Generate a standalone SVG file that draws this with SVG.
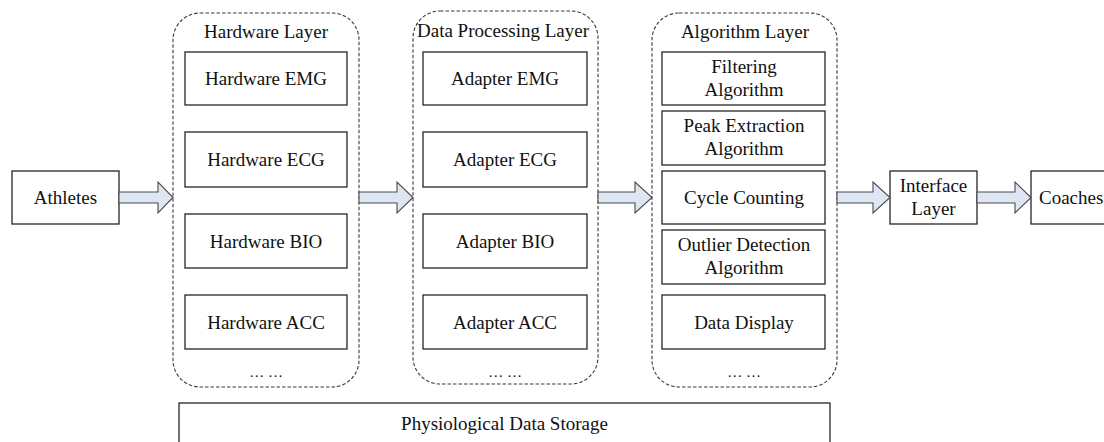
<svg xmlns="http://www.w3.org/2000/svg" width="1104" height="442" viewBox="0 0 1104 442">
  <style>
    .box { fill: #ffffff; stroke: #262626; stroke-width: 1.3; }
    .layer { fill: none; stroke: #3a3a3a; stroke-width: 1.1; stroke-dasharray: 3.5 2; }
    .flow { fill: #dfe6f3; stroke: #4a4a4a; stroke-width: 1.1; stroke-linejoin: miter; }
    text { font-family: "Liberation Serif", "Times New Roman", serif; font-size: 19px; fill: #111; text-anchor: middle; }
    .dots { font-size: 15px; }
  </style>

  <!-- Source -->
  <g id="athletes">
    <rect class="box" x="12" y="171" width="107" height="53"/>
    <text x="65.5" y="203.5">Athletes</text>
  </g>

  <!-- Hardware layer -->
  <g id="hardware-layer">
    <rect class="layer" x="173" y="13" width="186" height="374" rx="27" ry="27"/>
    <text x="266" y="38">Hardware Layer</text>
    <rect class="box" x="185" y="52" width="162" height="53"/>
    <text x="266" y="85">Hardware EMG</text>
    <rect class="box" x="185" y="132" width="162" height="55"/>
    <text x="266" y="166">Hardware ECG</text>
    <rect class="box" x="185" y="214" width="162" height="54"/>
    <text x="266" y="247.5">Hardware BIO</text>
    <rect class="box" x="185" y="295" width="162" height="54"/>
    <text x="266" y="328.5">Hardware ACC</text>
    <text class="dots" x="266" y="377">… …</text>
  </g>

  <!-- Data processing layer -->
  <g id="data-processing-layer">
    <rect class="layer" x="413" y="11" width="185" height="373" rx="27" ry="27"/>
    <text x="503" y="37">Data Processing Layer</text>
    <rect class="box" x="423" y="52" width="164" height="53"/>
    <text x="505" y="85">Adapter EMG</text>
    <rect class="box" x="423" y="132" width="164" height="55"/>
    <text x="505" y="166">Adapter ECG</text>
    <rect class="box" x="423" y="214" width="164" height="54"/>
    <text x="505" y="247.5">Adapter BIO</text>
    <rect class="box" x="423" y="295" width="164" height="54"/>
    <text x="505" y="328.5">Adapter ACC</text>
    <text class="dots" x="505" y="377">… …</text>
  </g>

  <!-- Algorithm layer -->
  <g id="algorithm-layer">
    <rect class="layer" x="652" y="13" width="185" height="374" rx="27" ry="27"/>
    <text x="745" y="38">Algorithm Layer</text>
    <rect class="box" x="662" y="52" width="163" height="53"/>
    <text x="744" y="72.5">Filtering</text>
    <text x="744" y="95.5">Algorithm</text>
    <rect class="box" x="662" y="111" width="163" height="54"/>
    <text x="744" y="132">Peak Extraction</text>
    <text x="744" y="155">Algorithm</text>
    <rect class="box" x="662" y="171" width="163" height="53"/>
    <text x="744" y="204">Cycle Counting</text>
    <rect class="box" x="662" y="230" width="163" height="54"/>
    <text x="744" y="251">Outlier Detection</text>
    <text x="744" y="274">Algorithm</text>
    <rect class="box" x="662" y="295" width="163" height="54"/>
    <text x="744" y="328.5">Data Display</text>
    <text class="dots" x="744" y="377">… …</text>
  </g>

  <!-- Interface -->
  <g id="interface-layer">
    <rect class="box" x="890" y="171" width="87" height="53"/>
    <text x="933.5" y="191.5">Interface</text>
    <text x="933.5" y="214.5">Layer</text>
  </g>

  <!-- Sink -->
  <g id="coaches">
    <rect class="box" x="1031" y="171" width="90" height="53"/>
    <text x="1039" y="203.5" style="text-anchor:start">Coaches</text>
  </g>

  <!-- Storage -->
  <g id="storage">
    <rect class="box" x="179" y="403" width="651" height="45"/>
    <text x="504.5" y="430">Physiological Data Storage</text>
  </g>

  <!-- Block arrows between stages -->
  <g id="connectors">
    <path class="flow" d="M119,192 H158 V182 L173,197.5 L158,213 V203 H119 Z"/>
    <path class="flow" d="M359,192 H397 V182 L413,197.5 L397,213 V203 H359 Z"/>
    <path class="flow" d="M598,192 H635 V182 L652,197.5 L635,213 V203 H598 Z"/>
    <path class="flow" d="M837,192 H873 V182 L890,197.5 L873,213 V203 H837 Z"/>
    <path class="flow" d="M977,192 H1015 V182 L1031,197.5 L1015,213 V203 H977 Z"/>
  </g>
</svg>
